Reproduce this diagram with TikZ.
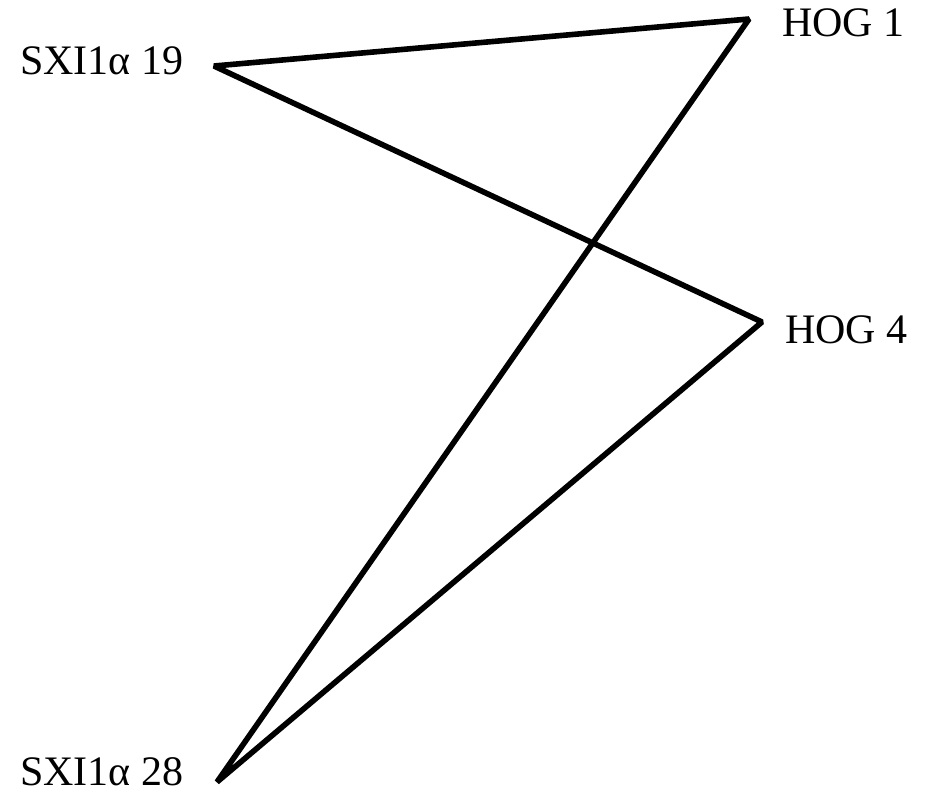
\documentclass[tikz,border=0pt]{standalone}
\usepackage{fontspec}
\setmainfont{Liberation Serif}
\usepackage{tikz}
\usetikzlibrary{positioning}
\tikzset{gene/.style={%
        inner sep=0pt,
        anchor=base west,
        font=\fontsize{31.5}{36}\selectfont
    },
    link/.style={%
        line width=4.2pt,
        line join=bevel,
        draw=black
    }}

\begin{document}
\begin{tikzpicture}[x=0.75pt,y=-0.75pt]
    \useasboundingbox (0,0) rectangle (933,799);
    \coordinate (S19) at (214,66);
    \coordinate (H1) at (749,19);
    \coordinate (H4) at (762,322);
    \coordinate (S28) at (217,782);
    \node [gene] (lS19) at (20,75)  {SXI1α 19};
    \node [gene] (lH1)  at (782,37) {HOG 1};
    \node [gene] (lH4)  at (785,343) {HOG 4};
    \node [gene] (lS28) at (20,785) {SXI1α 28};
    \draw[link] (S19) -- (H1) -- (S28) -- (H4) -- cycle;
    \end{tikzpicture}
\end{document}
